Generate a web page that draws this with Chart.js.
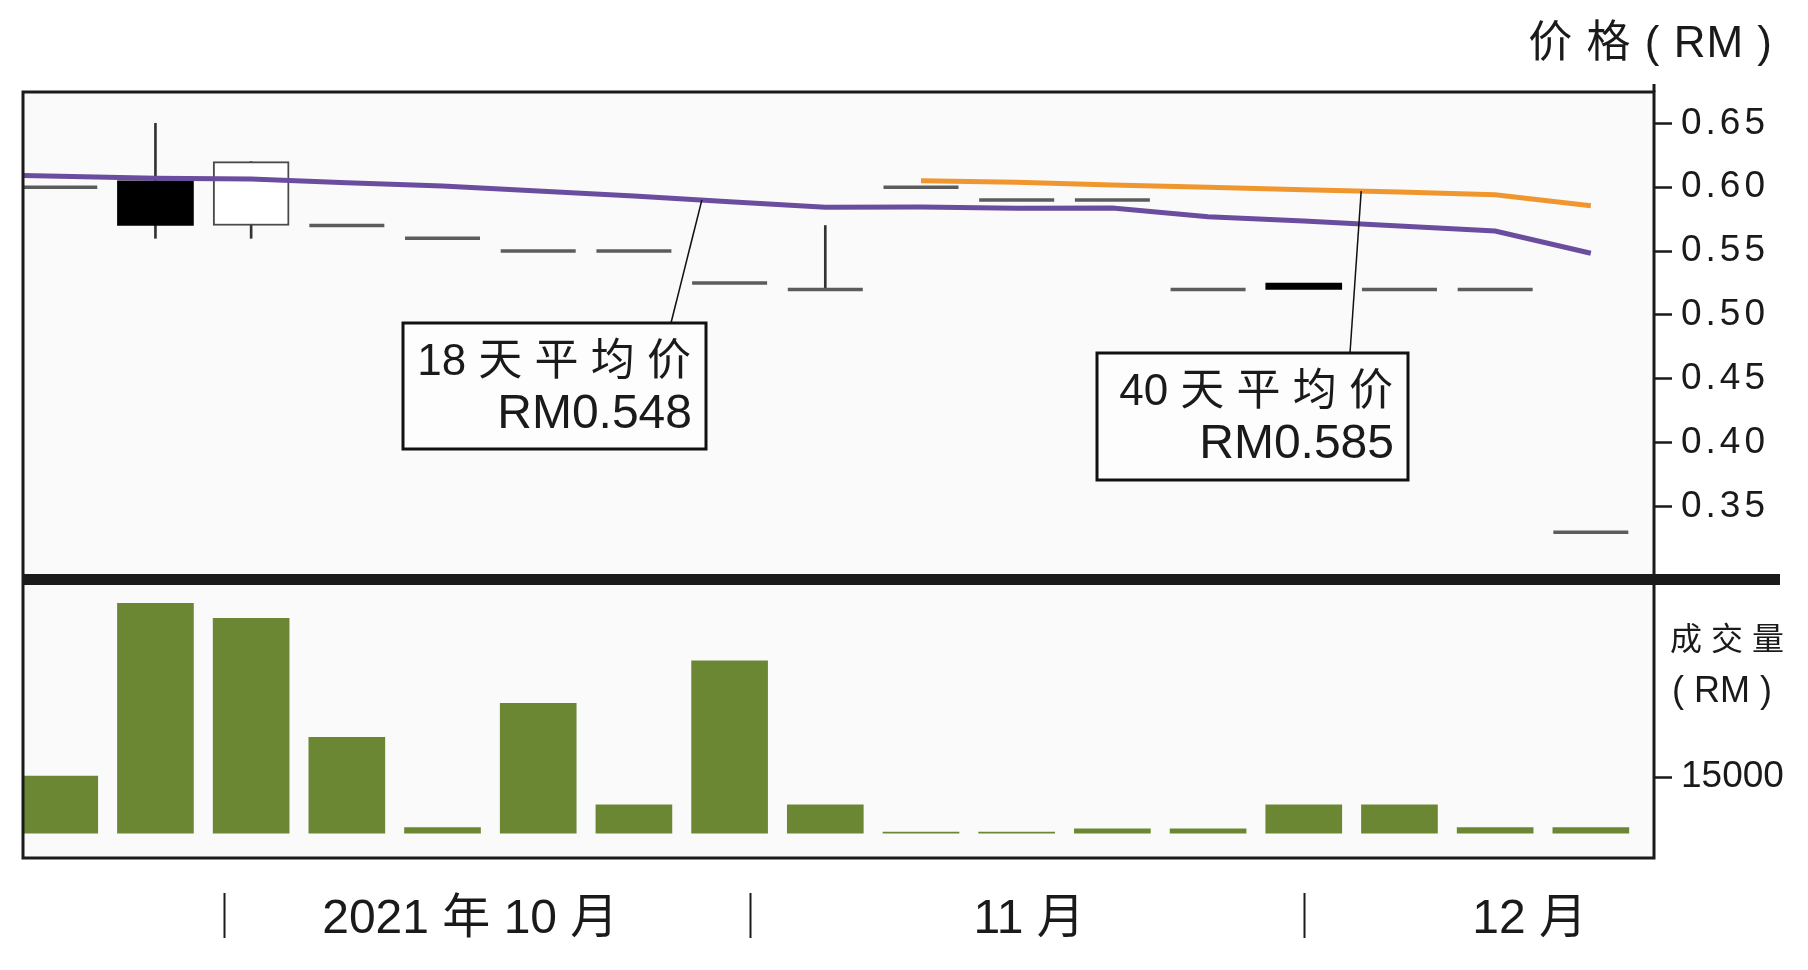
<!DOCTYPE html>
<html>
<head>
<meta charset="utf-8">
<script src="https://cdn.jsdelivr.net/npm/chart.js@4.4.0/dist/chart.umd.min.js"></script>
<style>
html, body { margin: 0; padding: 0; background: #fff; }
#wrap { position: relative; width: 1808px; height: 970px; }
#wrap canvas { position: absolute; left: 0; top: 0; }
</style>
</head>
<body>
<div id="wrap">
    <canvas id="price" width="1808" height="970"></canvas>
    <canvas id="volume" width="1808" height="970"></canvas>
</div>
<script>
// one bar per period, left to right
const barIndex   = [0, 1, 2, 3, 4, 5, 6, 7, 8, 9, 10, 11, 12, 13, 14, 15, 16];
const openPrice  = [0.60, 0.605, 0.57, 0.57, 0.56, 0.55, 0.55, 0.525, 0.52, 0.60, 0.59, 0.59, 0.52, 0.525, 0.52, 0.52, 0.33];
const highPrice  = [0.60, 0.65, 0.62, 0.57, 0.56, 0.55, 0.55, 0.525, 0.57, 0.60, 0.59, 0.59, 0.52, 0.525, 0.52, 0.52, 0.33];
const lowPrice   = [0.60, 0.56, 0.56, 0.57, 0.56, 0.55, 0.55, 0.525, 0.52, 0.60, 0.59, 0.59, 0.52, 0.52, 0.52, 0.52, 0.33];
const closePrice = [0.60, 0.57, 0.62, 0.57, 0.56, 0.55, 0.55, 0.525, 0.52, 0.60, 0.59, 0.59, 0.52, 0.52, 0.52, 0.52, 0.33];

// moving averages (18 day starts one period before the first bar)
const ma18Before = 0.610;
const ma18 = [0.6085, 0.607, 0.6064, 0.6035, 0.6009, 0.597, 0.5931, 0.5887, 0.5843, 0.5845, 0.5835, 0.5837, 0.5769, 0.5736, 0.5696, 0.5657, 0.5483];
const ma40 = [null, null, null, null, null, null, null, null, null, 0.6051, 0.6038, 0.6017, 0.5999, 0.598, 0.5962, 0.5941, 0.5855];

// traded value (RM)
const volume = [15300, 61600, 57600, 25700, 1500, 34800, 7600, 46200, 7600, 300, 350, 1200, 1200, 7600, 7600, 1500, 1500];

const priceTicks  = [0.35, 0.40, 0.45, 0.50, 0.55, 0.60, 0.65];
const volumeTicks = [15000];

const monthLabels  = ['2021 年 10 月', '11 月', '12 月'];
const monthLabelAt = [4.29, 10.13, 15.36];
const monthStartAt = [1.716, 7.21, 13.0];

const maTitles = ['18 天 平 均 价', '40 天 平 均 价'];
const maValues = ['RM0.548', 'RM0.585'];

// layout
const FONT = '"Liberation Sans", "Noto Sans CJK SC", sans-serif';
const frameL = 23, frameR = 1654, frameT = 92, frameB = 858;
const splitY = 574, splitH = 11, splitEnd = 1780;
const maBoxes = [
    { x: 403, y: 323, w: 303, h: 126, leaderX: 268, anchor: 6.71, dataset: 0 },
    { x: 1097, y: 353, w: 311, h: 127, leaderX: 253, anchor: 13.6, dataset: 1 }
];

const xScale = { type: 'linear', min: -0.384, max: 16.66, offset: false, display: false };

function lineY(meta, px) {
    const pts = meta.data;
    for (let i = 1; i < pts.length; i++) {
        if (pts[i].x >= px) {
            const a = pts[i - 1], b = pts[i];
            return a.y + (b.y - a.y) * (px - a.x) / (b.x - a.x);
        }
    }
    return pts[pts.length - 1].y;
}

const pricePanel = {
    id: 'pricePanel',
    beforeDraw(chart) {
        const ctx = chart.ctx;
        ctx.save();
        ctx.fillStyle = '#fafafa';
        ctx.fillRect(frameL, frameT, frameR - frameL, frameB - frameT);
        ctx.restore();
        ctx.letterSpacing = '4px';
    },
    afterDatasetsDraw(chart) {
        const ctx = chart.ctx;
        ctx.save();
        ctx.letterSpacing = '0px';
        maBoxes.forEach((b, i) => {
            const meta = chart.getDatasetMeta(b.dataset);
            const ax = chart.scales.x.getPixelForValue(b.anchor);
            const ay = lineY(meta, ax);
            ctx.strokeStyle = '#111';
            ctx.lineWidth = 1.5;
            ctx.beginPath();
            ctx.moveTo(b.x + b.leaderX, b.y);
            ctx.lineTo(ax, ay);
            ctx.stroke();

            ctx.fillStyle = '#fdfdfd';
            ctx.fillRect(b.x, b.y, b.w, b.h);
            ctx.lineWidth = 3;
            ctx.strokeRect(b.x, b.y, b.w, b.h);

            ctx.fillStyle = '#1a1a1a';
            ctx.textAlign = 'right';
            ctx.textBaseline = 'alphabetic';
            ctx.font = '44px ' + FONT;
            ctx.fillText(maTitles[i], b.x + b.w - 15, b.y + 52);
            ctx.font = '48px ' + FONT;
            ctx.fillText(maValues[i], b.x + b.w - 14, b.y + 105);
        });
        ctx.restore();
    }
};

const framePanel = {
    id: 'framePanel',
    afterDraw(chart) {
        const ctx = chart.ctx;
        const x = chart.scales.x;
        ctx.save();
        ctx.letterSpacing = '0px';
        ctx.strokeStyle = '#1a1a1a';
        ctx.lineWidth = 3;
        ctx.strokeRect(frameL, frameT, frameR - frameL, frameB - frameT);
        ctx.beginPath();
        ctx.moveTo(frameR, frameT - 8);
        ctx.lineTo(frameR, frameT);
        ctx.stroke();
        ctx.fillStyle = '#1a1a1a';
        ctx.fillRect(frameL, splitY, splitEnd - frameL, splitH);

        ctx.fillStyle = '#1a1a1a';
        ctx.textBaseline = 'alphabetic';
        ctx.textAlign = 'right';
        ctx.font = '44px ' + FONT;
        ctx.letterSpacing = '1px';
        ctx.fillText('价 格 ( RM )', 1773, 57);
        ctx.letterSpacing = '0px';

        ctx.textAlign = 'center';
        ctx.font = '32px ' + FONT;
        ctx.fillText('成 交 量', 1727, 650);
        ctx.font = '36px ' + FONT;
        ctx.fillText('( RM )', 1722, 702);

        ctx.font = '48px ' + FONT;
        monthLabels.forEach((t, i) => {
            ctx.fillText(t, x.getPixelForValue(monthLabelAt[i]), 933);
        });
        ctx.lineWidth = 2;
        monthStartAt.forEach(v => {
            const px = Math.round(x.getPixelForValue(v)) + 0.5;
            ctx.beginPath();
            ctx.moveTo(px, 893);
            ctx.lineTo(px, 938);
            ctx.stroke();
        });
        ctx.restore();
    }
};

const isDash = i => openPrice[i] === closePrice[i];

new Chart(document.getElementById('price'), {
    type: 'bar',
    data: {
        datasets: [{
            type: 'line',
            label: '18 天平均价',
            data: [{ x: -1, y: ma18Before }].concat(barIndex.map(i => ({ x: i, y: ma18[i] }))),
            borderColor: '#6a4d9e',
            borderWidth: 5,
            pointRadius: 0,
            tension: 0,
            order: 0
        }, {
            type: 'line',
            label: '40 天平均价',
            data: barIndex.filter(i => ma40[i] !== null).map(i => ({ x: i, y: ma40[i] })),
            borderColor: '#f0962e',
            borderWidth: 5,
            pointRadius: 0,
            tension: 0,
            order: 0
        }, {
            type: 'line',
            label: 'flat',
            data: barIndex.filter(isDash).map(i => ({ x: i, y: closePrice[i] })),
            showLine: false,
            pointStyle: 'line',
            pointRadius: 37.5,
            pointBorderWidth: 3.5,
            pointBorderColor: '#5c5c5c',
            order: 1
        }, {
            label: 'body',
            data: barIndex.filter(i => !isDash(i)).map(i => ({ x: i, y: [openPrice[i], closePrice[i]] })),
            backgroundColor: c => c.raw.y[1] > c.raw.y[0] ? '#ffffff' : '#000000',
            borderColor: c => c.raw.y[1] > c.raw.y[0] ? '#4a4a4a' : '#000000',
            borderWidth: c => c.raw.y[1] > c.raw.y[0] ? 2 : 0,
            borderSkipped: false,
            barThickness: 76,
            grouped: false,
            order: 2
        }, {
            label: 'wick',
            data: barIndex
                .filter(i => highPrice[i] > Math.max(openPrice[i], closePrice[i]) || lowPrice[i] < Math.min(openPrice[i], closePrice[i]))
                .map(i => ({ x: i, y: [lowPrice[i], highPrice[i]] })),
            backgroundColor: '#333333',
            barThickness: 2,
            grouped: false,
            order: 3
        }]
    },
    options: {
        responsive: false,
        animation: false,
        devicePixelRatio: 1,
        layout: { autoPadding: false, padding: { left: frameL, top: frameT, right: 0, bottom: 970 - splitY } },
        plugins: { legend: { display: false }, tooltip: { enabled: false } },
        scales: {
            x: xScale,
            y: {
                position: 'right',
                min: 0.2973,
                max: 0.6745,
                afterBuildTicks: s => { s.ticks = priceTicks.map(v => ({ value: v })); },
                afterFit: s => { s.width = 1808 - frameR; },
                border: { display: false },
                grid: { drawOnChartArea: false, drawTicks: true, tickLength: 18, tickWidth: 2.5, tickColor: '#1a1a1a' },
                ticks: {
                    autoSkip: false,
                    padding: 9,
                    color: '#1a1a1a',
                    font: { family: FONT, size: 37 },
                    callback: v => v.toFixed(2)
                }
            }
        }
    },
    plugins: [pricePanel]
});

new Chart(document.getElementById('volume'), {
    type: 'bar',
    data: {
        datasets: [{
            label: '成交量',
            data: barIndex.map(i => ({ x: i, y: volume[i] })),
            backgroundColor: '#6b8733',
            barThickness: 76
        }]
    },
    options: {
        responsive: false,
        animation: false,
        devicePixelRatio: 1,
        layout: { autoPadding: false, padding: { left: frameL, top: splitY + splitH + 1, right: 0, bottom: 970 - frameB + 1 } },
        plugins: { legend: { display: false }, tooltip: { enabled: false } },
        scales: {
            x: xScale,
            y: {
                position: 'right',
                min: -6350,
                max: 66240,
                afterBuildTicks: s => { s.ticks = volumeTicks.map(v => ({ value: v })); },
                afterFit: s => { s.width = 1808 - frameR; },
                border: { display: false },
                grid: { drawOnChartArea: false, drawTicks: true, tickLength: 18, tickWidth: 2.5, tickColor: '#1a1a1a' },
                ticks: {
                    autoSkip: false,
                    padding: 9,
                    color: '#1a1a1a',
                    font: { family: FONT, size: 37 },
                    callback: v => String(v)
                }
            }
        }
    },
    plugins: [framePanel]
});
</script>
</body>
</html>
